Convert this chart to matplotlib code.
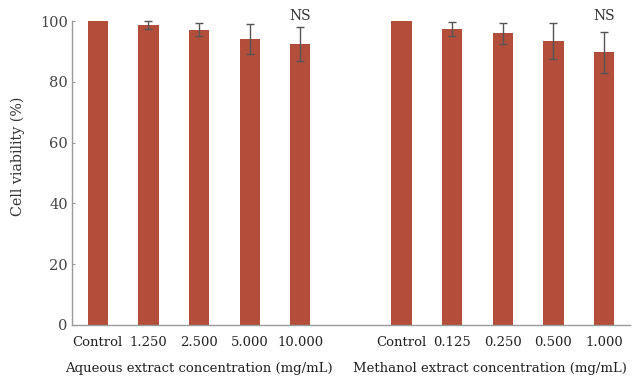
import matplotlib.pyplot as plt
import numpy as np

# Cell viability (%) for each extract concentration
aqueous_labels = ["Control", "1.250", "2.500", "5.000", "10.000"]
aqueous_mean = [100.0, 98.6, 97.2, 94.1, 92.4]
aqueous_err = [0.0, 1.3, 2.2, 5.0, 5.6]

methanol_labels = ["Control", "0.125", "0.250", "0.500", "1.000"]
methanol_mean = [100.0, 97.4, 96.0, 93.5, 89.7]
methanol_err = [0.0, 2.2, 3.4, 5.9, 6.8]

y_ticks = [0, 20, 40, 60, 80, 100]

plt.rcParams["font.family"] = ["DejaVu Serif"]
bar_color = "#B24E3A"
axis_color = "#9a9a9a"

fig = plt.figure(figsize=(6.35, 3.79), dpi=100)
ax = fig.add_axes([0.1134, 0.1425, 0.8786, 0.802])

x_aq = np.arange(5)
x_me = np.arange(6, 11)
x_all = np.concatenate([x_aq, x_me])
means = aqueous_mean + methanol_mean
errs = aqueous_err + methanol_err

ax.bar(x_all, means, width=0.4, color=bar_color, zorder=2)
for xi, m, e in zip(x_all, means, errs):
    if e > 0:
        ax.errorbar(xi, m, yerr=e, fmt="none", ecolor="#555555",
                    elinewidth=1.0, capsize=3, capthick=1.0, zorder=3,
                    clip_on=False)

# NS marks above the highest concentration of each extract
for xi in [x_aq[-1], x_me[-1]]:
    ax.text(xi, 101.8, "NS", ha="center", va="center", fontsize=10,
            color="#333333", clip_on=False)

ax.set_xlim(-0.51, 10.51)
ax.set_ylim(0, 100)
ax.set_yticks(y_ticks)
ax.set_yticklabels([str(v) for v in y_ticks], fontsize=10.5, color="#444444")
ax.set_xticks(x_all)
ax.set_xticklabels(aqueous_labels + methanol_labels, fontsize=9.5, color="#222222")
ax.tick_params(axis="y", direction="in", length=2, color=axis_color, pad=3)
ax.tick_params(axis="x", length=0, pad=8)

for s in ["top", "right"]:
    ax.spines[s].set_visible(False)
for s in ["left", "bottom"]:
    ax.spines[s].set_color(axis_color)
    ax.spines[s].set_linewidth(1.0)

ax.set_ylabel("Cell viability (%)", fontsize=10.3, color="#333333", labelpad=11)
ax.yaxis.set_label_coords(-0.085, 0.556)

ax.text(2, -12.3, "Aqueous extract concentration (mg/mL)", ha="center", va="top",
        fontsize=9.5, color="#222222", transform=ax.transData)
ax.text(7.75, -12.3, "Methanol extract concentration (mg/mL)", ha="center", va="top",
        fontsize=9.5, color="#222222", transform=ax.transData)

fig.savefig("out.png", dpi=100, facecolor="white")
